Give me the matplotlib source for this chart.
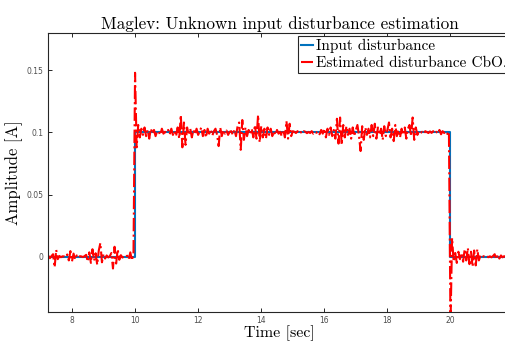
import numpy as np
import matplotlib
matplotlib.use("Agg")
import matplotlib.pyplot as plt

# input disturbance (step) breakpoints
input_t = [7.24, 10.0, 10.0, 20.0, 20.0, 21.9]
input_v = [0.0, 0.0, 0.1, 0.1, 0.0, 0.0]

# estimated disturbance, sampled every 0.05 s from 7.25 s
# stored as deviation from the true input, in units of 1e-3 A
t_start = 7.25
t_step = 0.05

noise_pre = [
    0.8, -1.2, 0.5, 2.0, -8.5, 5.5, -2.0, 0.6, -0.4, 0.3,
    0.2, -0.5, 1.8, -3.0, 4.5, -3.8, 2.5, -2.2, 1.0, -0.8,
    0.4, 0.2, -0.3, 0.5, 1.5, -4.0, 3.5, -5.0, 6.0, -3.2,
    2.8, -6.5, 5.0, 11.0, -4.5, 2.0, -1.5, 1.0, -0.6, 0.5,
    3.0, -9.5, 8.0, -5.5, 6.0, -2.5, 1.2, -0.7, 0.4, -0.3,
    0.8, -2.0, 3.5, -3.0, 2.5,
]

noise_high = [
    48,
    -12, 6, -4, 3, -2, 4, -3, 2, -5, 3,
    -1, 2, -3, 1, 0.5, -2, 3, -1, 0.5, -0.5,
    2, -1.5, 3, -2, 1, -3, 4, -5, 14, -12,
    8, -10, 4, -2, 3, -4, 2, -1.5, 3, -2,
    1, 4, -3, 2, -4, 3, -1, 2, -2.5, 1,
    3, -2, -11, 4, -3, 2, -1, 1.5, -2, 0.5,
    1, -2, 2, -3, 5, 8, -14, 10, -6, 4,
    -3, 2, -1, 3, -4, 6, -5, 14, -8, 5,
    -4, 3, -5, 4, -2, 3, -3, 1, -2, 2,
    -1, 0.5, -3, 2, -4, 9, -5, 7, -3, 1,
    0.5, -0.5, 1, -1, 0.3, -0.8, 1, 0.5, -0.6, 0.4,
    -0.5, 1, -1, 0.5, -0.3, 0.8, -1.5, 2, -1, 3,
    -4, 3, -2, 4, -3, 2, -5, 11, -9, 12,
    -10, 6, -4, 5, -2, 3, -5, 4, -3, 2,
    6, -3, -15, 5, -6, 4, -2, 3, -4, 6,
    -3, 7, -5, 4, -2, 3, -6, 5, -3, 2,
    8, -4, 3, -7, 6, -3, 2, -4, 3, -2,
    4, -5, 3, 6, -3, 12, -6, 4, -2, 1,
    -0.5, 0.5, -1, 1, 0.3, -0.5, 0.8, -0.4, 1, -0.8,
    0.5, -1, 2, -1.5, 1, -0.5, 0.8, -1.2, 0.6,
]

noise_post = [
    -55, 15, -4, 3, -5, 4, -2, 3, -4, 6,
    -3, 7, -6, 4, -8, 5, -7, 6, -3, 1,
    -0.5, 0.4, -0.3, 0.5, -0.4, 0.3, -0.5, 0.6, 2, -2,
    1.5, -1.5, 1, -0.5, 0.4, -0.3, 0.5, -0.4, 0.3,
]

noise = np.array(noise_pre + noise_high + noise_post) * 1e-3
est_t = np.round(t_start + t_step * np.arange(len(noise)), 3)
true_at_t = np.interp(est_t, [7.0, 9.999, 10.0, 19.999, 20.0, 22.0],
                      [0.0, 0.0, 0.1, 0.1, 0.0, 0.0])
est_v = true_at_t + noise

fig = plt.figure(figsize=(5.06, 3.43), dpi=100)
ax = fig.add_axes([48 / 506, 1 - 312 / 343, 1.01 - 48 / 506, (312 - 33) / 343])

ax.plot(input_t, input_v, color='#0072BD', linewidth=1.5, label='Input disturbance')
ax.plot(est_t, est_v, color='red', linewidth=1.5, linestyle='-.',
        label='Estimated disturbance CbO.')

ax.set_xlim(7.24, 21.92)
ax.set_ylim(-0.0445, 0.18)
ax.set_xticks([8, 10, 12, 14, 16, 18, 20])
ax.set_yticks([0, 0.05, 0.1, 0.15])
ax.set_yticklabels(['0', '0.05', '0.1', '0.15'])

for s in ax.spines.values():
    s.set_color('#262626')
    s.set_linewidth(0.8)
ax.tick_params(direction='in', length=3, width=0.7, colors='#262626',
               labelsize=5.5, top=True, right=True, labelcolor='#4d4d4d', pad=3)

serif = 'cmr10'
ax.set_title('Maglev: Unknown input disturbance estimation', fontfamily=serif,
             fontsize=12.3, pad=3)
ax.set_xlabel('Time [sec]', fontfamily=serif, fontsize=11.5, labelpad=0)
ax.set_ylabel('Amplitude [A]', fontfamily=serif, fontsize=12, labelpad=3)

leg = ax.legend(loc='upper left', bbox_to_anchor=(298 / 506, 1 - 36 / 343),
                bbox_transform=fig.transFigure, prop={'family': serif, 'size': 11},
                handlelength=0.8, handletextpad=0.2, borderpad=0.2,
                labelspacing=0.2, borderaxespad=0, fancybox=False, framealpha=1)
leg.get_frame().set_edgecolor('#262626')
leg.get_frame().set_linewidth(0.8)

fig.savefig('out.png', dpi=100)
